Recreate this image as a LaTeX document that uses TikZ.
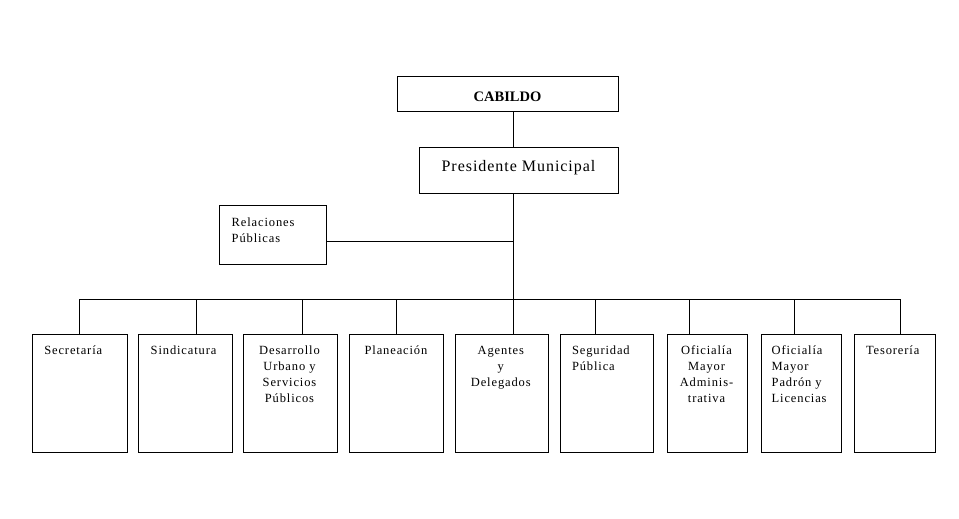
\documentclass[tikz,border=0pt]{standalone}
\usepackage{fontspec}
\setmainfont{Liberation Serif}
\newfontfamily\spc[LetterSpace=7]{Liberation Serif}
\newfontfamily\spcb[LetterSpace=6]{Liberation Serif}
\tikzset{
  bx/.style={draw=black, line width=1pt, inner sep=0pt, outer sep=0pt, anchor=north west},
  ln/.style={draw=black, line width=1pt},
  txt/.style={inner sep=0pt, outer sep=0pt, font=\spc\fontsize{12.5}{15.7}\selectfont},
  txtl/.style={txt, anchor=north west, align=left},
  txtc/.style={txt, anchor=north, align=center}
}
\begin{document}
\begin{tikzpicture}[x=1pt,y=-1pt]
\fill[white] (0,0) rectangle (959,519);
\useasboundingbox (0,0) rectangle (959,519);
% boxes
\node[bx, minimum width=221pt, minimum height=34pt] (cab) at (397,77) {};
\node[bx, minimum width=199pt, minimum height=46pt] (pre) at (419,147) {};
\node[bx, minimum width=107pt, minimum height=59pt] (rel) at (219,205) {};
\node[bx, minimum width=95pt, minimum height=118pt] (sec) at (32,334) {};
\node[bx, minimum width=94pt, minimum height=118pt] (sin) at (138,334) {};
\node[bx, minimum width=94pt, minimum height=118pt] (des) at (243,334) {};
\node[bx, minimum width=94pt, minimum height=118pt] (pla) at (349,334) {};
\node[bx, minimum width=93pt, minimum height=118pt] (age) at (455,334) {};
\node[bx, minimum width=93pt, minimum height=118pt] (seg) at (560,334) {};
\node[bx, minimum width=80pt, minimum height=118pt] (ofa) at (667,334) {};
\node[bx, minimum width=80pt, minimum height=118pt] (ofp) at (761,334) {};
\node[bx, minimum width=81pt, minimum height=118pt] (tes) at (854,334) {};
% texts
\node[anchor=base, inner sep=0pt, font=\bfseries\fontsize{14.5}{17}\selectfont] (cabt) at (507.5,101.7) {CABILDO};
\node[anchor=base, inner sep=0pt, font=\spcb\fontsize{16}{19}\selectfont] (pret) at (518.5,171.7) {Presidente Municipal};
\node[txtl] (relt) at (231.7,215.7) {\strut Relaciones\\Públicas};
\node[txtl] (sect) at (44.3,344) {\strut Secretaría};
\node[txtl] (sint) at (150.7,344) {\strut Sindicatura};
\node[txtc] (dest) at (289.5,344) {\strut Desarrollo\\Urbano y\\Servicios\\Públicos};
\node[txtc] (plat) at (396,344) {\strut Planeación};
\node[txtc] (aget) at (500.8,344) {\strut Agentes\\y\\Delegados};
\node[txtl] (segt) at (572,344) {\strut Seguridad\\Pública};
\node[txtc] (ofat) at (706.5,344) {\strut Oficialía\\Mayor\\Adminis-\\trativa};
\node[txtl] (ofpt) at (771.7,344) {\strut Oficialía\\Mayor\\Padrón y\\Licencias};
\node[txtl] (test) at (866,344) {\strut Tesorería};
% connectors
\coordinate (ax) at (513.3,299);
\coordinate (rj) at (513.3,241.7);
\draw[ln] (ax |- cab.south) -- (ax |- pre.north);
\draw[ln] (ax |- pre.south) -- (ax);
\draw[ln] (rj -| rel.east) -- (rj);
\coordinate (bl) at (79.3,299);
\coordinate (br) at (900.7,299);
\draw[ln] (bl) -- (br);
\foreach \x/\n in {79.3/sec,196.7/sin,302.3/des,396.7/pla,513.3/age,595.7/seg,689.3/ofa,794.3/ofp,900.7/tes}{
  \coordinate (j\n) at (\x,299);
  \draw[ln] (j\n) -- (j\n |- \n.north);
}
\end{tikzpicture}
\end{document}
